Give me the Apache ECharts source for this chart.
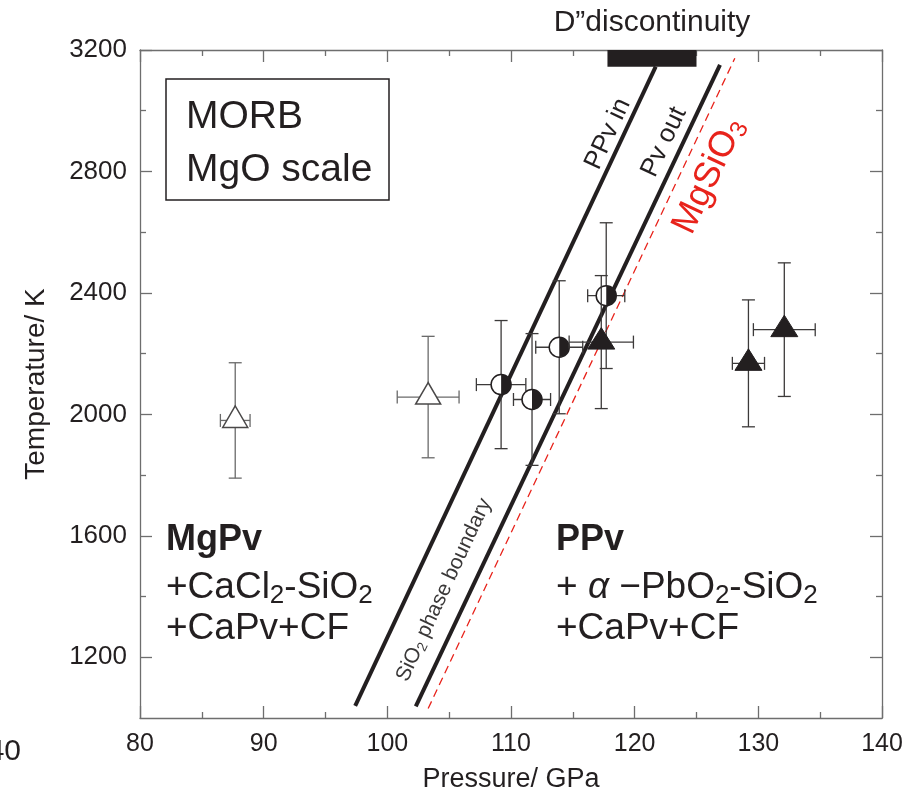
<!DOCTYPE html>
<html>
<head>
<meta charset="utf-8">
<script src="https://cdn.jsdelivr.net/npm/echarts@6/dist/echarts.min.js"></script>
<style>
  html, body { margin: 0; padding: 0; background: #fff; }
  #chart { width: 916px; height: 800px; }
</style>
</head>
<body>
<div id="chart"></div>
<script>
// Axis ranges and tick values
const pressureRange = [80, 140];
const temperatureRange = [1000, 3200];
const temperatureMajorTicks = [1200, 1600, 2000, 2400, 2800, 3200];
const temperatureMinorTicks = [1400, 1800, 2200, 2600, 3000];

// MgPv runs (open triangles): pressure (GPa), temperature (K), uncertainties
const mgpvP = [87.7, 103.3];
const mgpvT = [1980, 2057];
const mgpvErrP = [1.2, 2.5];
const mgpvErrT = [190, 200];

// Coexisting MgPv + PPv runs (half-filled circles)
const mixedP = [109.2, 111.7, 113.9, 117.7];
const mixedT = [2098, 2049, 2221, 2391];
const mixedErrP = [2.0, 1.5, 1.9, 1.5];
const mixedErrT = [211, 217, 219, 240];

// PPv runs (filled triangles)
const ppvP = [117.3, 129.2, 132.1];
const ppvT = [2238, 2168, 2279];
const ppvErrP = [2.6, 1.3, 2.5];
const ppvErrT = [219, 209, 220];

// Phase boundaries (end points)
const ppvInP = [97.4, 121.7];
const ppvInT = [1040, 3145];
const pvOutP = [102.3, 126.9];
const pvOutT = [1038, 3151];
const mgsio3P = [103.3, 128.1];
const mgsio3T = [1031, 3173];

// D" discontinuity pressure range
const dDiscP = [117.8, 125.0];
const dDiscT = [3145, 3200];

const FONT = "'Liberation Sans', Arial, Helvetica, sans-serif";
const INK = '#231f20';
const FRAME = '#6e6e6e';
const RED = '#e8231b';

function pointRows(P, T, eP, eT, kind) {
  return P.map((p, i) => [p, T[i], eP[i], eT[i], kind]);
}
const pointData = [].concat(
  pointRows(mgpvP, mgpvT, mgpvErrP, mgpvErrT, 0),
  pointRows(mixedP, mixedT, mixedErrP, mixedErrT, 1),
  pointRows(ppvP, ppvT, ppvErrP, ppvErrT, 2)
);

function boundary(P, T) {
  return P.map((p, i) => [p, T[i]]);
}

// Error bars plus marker for every run
function renderPoint(params, api) {
  const p = api.value(0), t = api.value(1);
  const ep = api.value(2), et = api.value(3), kind = api.value(4);
  const c = api.coord([p, t]);
  const top = api.coord([p, t + et]);
  const bot = api.coord([p, t - et]);
  const lft = api.coord([p - ep, t]);
  const rgt = api.coord([p + ep, t]);
  const bs = { stroke: kind === 0 ? '#6a6a6a' : '#3c3a3a', lineWidth: 1.3 };
  const cap = 6.5;
  const seg = (x1, y1, x2, y2) => ({ type: 'line', shape: { x1, y1, x2, y2 }, style: bs });
  const children = [
    seg(c[0], top[1], c[0], bot[1]),
    seg(c[0] - cap, top[1], c[0] + cap, top[1]),
    seg(c[0] - cap, bot[1], c[0] + cap, bot[1]),
    seg(lft[0], c[1], rgt[0], c[1]),
    seg(lft[0], c[1] - cap, lft[0], c[1] + cap),
    seg(rgt[0], c[1] - cap, rgt[0], c[1] + cap)
  ];
  if (kind === 1) {
    children.push({ type: 'circle', shape: { cx: c[0], cy: c[1], r: 10 },
      style: { fill: '#fff', stroke: INK, lineWidth: 1.5 } });
    children.push({ type: 'sector', shape: { cx: c[0], cy: c[1], r0: 0, r: 10,
      startAngle: -Math.PI / 2, endAngle: Math.PI / 2, clockwise: true },
      style: { fill: INK } });
  } else {
    const hw = kind === 0 ? 12.5 : 13.5;
    children.push({ type: 'polygon',
      shape: { points: [[c[0], c[1] - 14.5], [c[0] - hw, c[1] + 7], [c[0] + hw, c[1] + 7]] },
      style: kind === 0 ? { fill: '#fff', stroke: '#4a4848', lineWidth: 1.5 }
                        : { fill: INK, stroke: INK, lineWidth: 1 } });
  }
  return { type: 'group', children };
}

function renderBand(params, api) {
  const a = api.coord([api.value(0), api.value(3)]);
  const b = api.coord([api.value(2), api.value(1)]);
  return { type: 'rect', shape: { x: a[0], y: a[1], width: b[0] - a[0], height: b[1] - a[1] },
    style: { fill: INK } };
}

const plain = v => String(v);
const frameLine = { show: true, lineStyle: { color: FRAME, width: 1.3 } };

const xAxisBase = {
  type: 'value', min: pressureRange[0], max: pressureRange[1], interval: 10,
  axisLine: frameLine, splitLine: { show: false },
  axisTick: { inside: true, length: 12, lineStyle: { color: FRAME, width: 1.3 } },
  minorTick: { show: true, splitNumber: 2, length: 6, lineStyle: { color: FRAME, width: 1.3 } }
};
const yAxisMajor = {
  type: 'value', min: temperatureRange[0], max: temperatureRange[1],
  axisLine: frameLine, splitLine: { show: false },
  axisTick: { inside: true, length: 12, customValues: temperatureMajorTicks,
              lineStyle: { color: FRAME, width: 1.3 } }
};
const yAxisMinor = {
  type: 'value', min: temperatureRange[0], max: temperatureRange[1],
  axisLine: { show: false }, splitLine: { show: false }, axisLabel: { show: false },
  axisTick: { inside: true, length: 6, customValues: temperatureMinorTicks,
              lineStyle: { color: FRAME, width: 1.3 } }
};

// Rich-text styles for formulas with subscripts
function formulaRich(size, subSize, color, lh, subLh) {
  return {
    a: { fontSize: size, fontFamily: FONT, fill: color, lineHeight: lh },
    g: { fontSize: size, fontFamily: FONT, fontStyle: 'italic', fill: color, lineHeight: lh },
    s: { fontSize: subSize, fontFamily: FONT, fill: color, lineHeight: subLh, verticalAlign: 'bottom' }
  };
}

const option = {
  backgroundColor: '#fff',
  animation: false,
  grid: { left: 140, right: 34, top: 50, bottom: 82 },
  xAxis: [
    Object.assign({}, xAxisBase, {
      position: 'bottom',
      axisLabel: { margin: 14, color: INK, fontSize: 25, fontFamily: FONT, formatter: plain },
      name: 'Pressure/ GPa', nameLocation: 'middle', nameGap: 48,
      nameTextStyle: { color: INK, fontSize: 27, fontFamily: FONT }
    }),
    Object.assign({}, xAxisBase, { position: 'top', axisLabel: { show: false } })
  ],
  yAxis: [
    Object.assign({}, yAxisMajor, {
      position: 'left',
      axisLabel: { margin: 13, customValues: temperatureMajorTicks, color: INK,
                   fontSize: 26, fontFamily: FONT, formatter: plain },
      name: 'Temperature/ K', nameLocation: 'middle', nameGap: 90,
      nameTextStyle: { color: INK, fontSize: 28, fontFamily: FONT }
    }),
    Object.assign({}, yAxisMajor, { position: 'right', axisLabel: { show: false } }),
    Object.assign({}, yAxisMinor, { position: 'left' }),
    Object.assign({}, yAxisMinor, { position: 'right' })
  ],
  series: [
    { name: 'PPv in', type: 'line', data: boundary(ppvInP, ppvInT), symbol: 'none', z: 3,
      lineStyle: { color: INK, width: 4 } },
    { name: 'Pv out', type: 'line', data: boundary(pvOutP, pvOutT), symbol: 'none', z: 3,
      lineStyle: { color: INK, width: 4 } },
    { name: 'MgSiO3', type: 'line', data: boundary(mgsio3P, mgsio3T), symbol: 'none', z: 2,
      lineStyle: { color: RED, width: 1.3, type: [8, 5] } },
    { name: 'D" discontinuity', type: 'custom', renderItem: renderBand, z: 4,
      data: [[dDiscP[0], dDiscT[0], dDiscP[1], dDiscT[1]]] },
    { name: 'runs', type: 'custom', renderItem: renderPoint, z: 5, data: pointData }
  ],
  graphic: [
    { type: 'rect', shape: { x: 166, y: 79, width: 223, height: 121 },
      style: { fill: 'none', stroke: INK, lineWidth: 1.5 } },
    { type: 'text', x: 186, y: 117,
      style: { text: 'MORB', fill: INK, font: '39px ' + FONT, verticalAlign: 'middle' } },
    { type: 'text', x: 186, y: 170,
      style: { text: 'MgO scale', fill: INK, font: '39px ' + FONT, verticalAlign: 'middle' } },
    { type: 'text', x: 652, y: 23,
      style: { text: 'D\u201ddiscontinuity', fill: INK, font: '30px ' + FONT,
               align: 'center', verticalAlign: 'middle' } },
    // Field labels
    { type: 'text', x: 166, y: 540,
      style: { text: 'MgPv', fill: INK, font: 'bold 36px ' + FONT, verticalAlign: 'middle' } },
    { type: 'text', x: 166, y: 588,
      style: { text: '{a|+CaCl}{s|2}{a|-SiO}{s|2}', verticalAlign: 'middle',
        rich: formulaRich(37, 26, INK, 42, 18) } },
    { type: 'text', x: 166, y: 629,
      style: { text: '+CaPv+CF', fill: INK, font: '37px ' + FONT, verticalAlign: 'middle' } },
    { type: 'text', x: 556, y: 540,
      style: { text: 'PPv', fill: INK, font: 'bold 36px ' + FONT, verticalAlign: 'middle' } },
    { type: 'text', x: 556, y: 588,
      style: { text: '{a|+ }{g|\u03b1}{a| \u2212PbO}{s|2}{a|-SiO}{s|2}', verticalAlign: 'middle',
        rich: formulaRich(37, 26, INK, 42, 18) } },
    { type: 'text', x: 556, y: 629,
      style: { text: '+CaPv+CF', fill: INK, font: '37px ' + FONT, verticalAlign: 'middle' } },
    // Labels along the boundaries
    { type: 'text', x: 608, y: 134, rotation: 65 * Math.PI / 180,
      style: { text: 'PPv in', fill: INK, font: '26px ' + FONT, align: 'center', verticalAlign: 'middle' } },
    { type: 'text', x: 664, y: 142, rotation: 64.7 * Math.PI / 180,
      style: { text: 'Pv out', fill: INK, font: '26px ' + FONT, align: 'center', verticalAlign: 'middle' } },
    { type: 'text', x: 709, y: 176, rotation: 64.7 * Math.PI / 180,
      style: { text: '{a|MgSiO}{s|3}', align: 'center', verticalAlign: 'middle',
        rich: formulaRich(36, 24, RED, 40, 18) } },
    { type: 'text', x: 444, y: 590, rotation: 65 * Math.PI / 180,
      style: { text: '{a|SiO}{s|2}{a| phase boundary}', align: 'center', verticalAlign: 'middle',
        rich: formulaRich(21, 14, '#3a3838', 24, 12) } },
    // Panel label of the neighbouring figure, cut at the page edge
    { type: 'text', x: 21, y: 752,
      style: { text: '40', fill: INK, font: '30px ' + FONT, align: 'right', verticalAlign: 'middle' } }
  ]
};

const chart = echarts.init(document.getElementById('chart'), null, { renderer: 'canvas' });
chart.setOption(option);
</script>
</body>
</html>
